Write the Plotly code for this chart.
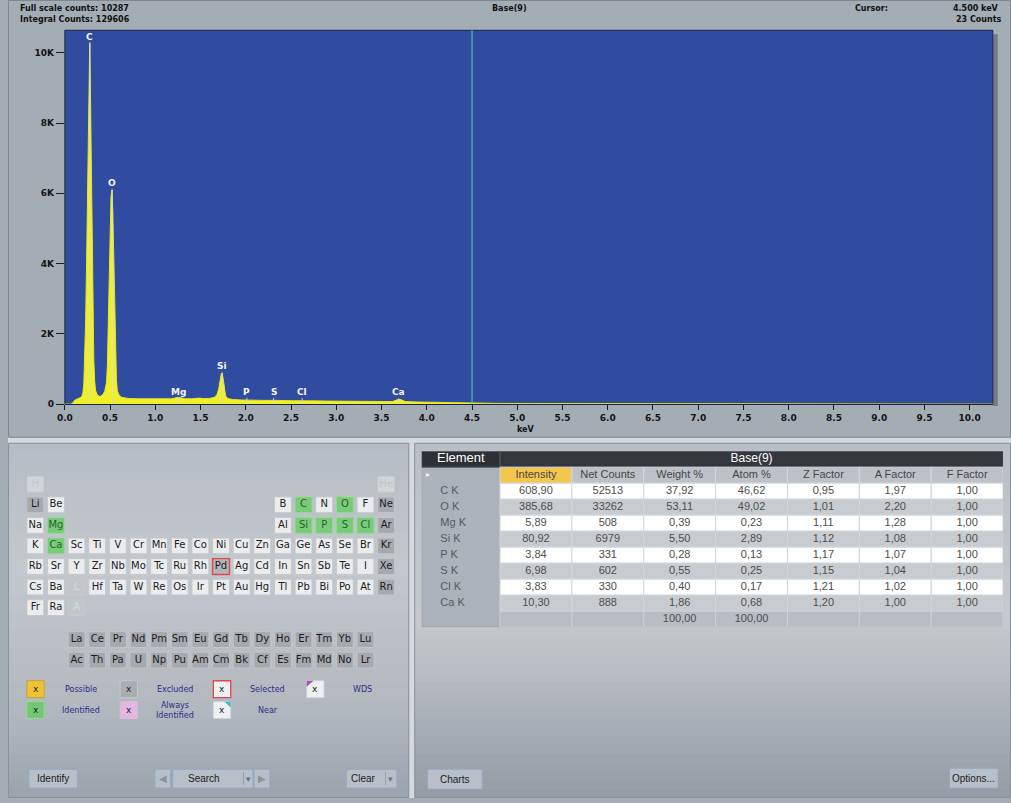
import plotly.graph_objects as go

W, H = 1011, 803

# ---------------- spectrum data ----------------
energy_keV = [0.00, 0.07, 0.09, 0.11, 0.14, 0.17, 0.19, 0.20, 0.21, 0.22, 0.23, 0.24, 0.25, 0.26,
              0.27, 0.275, 0.28, 0.29, 0.30, 0.31, 0.32, 0.33, 0.34, 0.36, 0.38, 0.40, 0.42, 0.44,
              0.46, 0.47, 0.48, 0.49, 0.50, 0.51, 0.52, 0.53, 0.54, 0.55, 0.56, 0.57, 0.58, 0.60,
              0.63, 0.70, 0.80, 0.90, 1.00, 1.10, 1.18, 1.22, 1.25, 1.28, 1.33, 1.40, 1.45, 1.49,
              1.53, 1.60, 1.65, 1.68, 1.70, 1.71, 1.72, 1.73, 1.74, 1.75, 1.76, 1.77, 1.78, 1.80,
              1.85, 1.95, 2.01, 2.06, 2.20, 2.30, 2.35, 2.50, 2.62, 2.70, 2.90, 3.10, 3.30, 3.50,
              3.62, 3.66, 3.69, 3.72, 3.76, 3.90, 4.10, 4.30, 4.50, 4.80, 5.20, 5.60, 6.00, 6.40,
              6.80, 7.20, 7.45, 7.50, 10.26]
counts = [0, 0, 40, 110, 150, 180, 230, 330, 600, 1250, 2400, 4000, 6100, 8500,
          9500, 10287, 9450, 7600, 4700, 2500, 1250, 650, 380, 260, 220, 230, 270, 360,
          600, 1100, 2300, 3900, 5300, 5900, 6100, 5500, 4300, 2900, 1500, 700, 380, 250,
          190, 160, 150, 145, 140, 140, 150, 175, 195, 180, 150, 150, 165, 170,
          155, 160, 190, 260, 420, 600, 790, 880, 870, 750, 540, 340, 220, 160,
          130, 115, 125, 112, 105, 118, 105, 95, 105, 92, 85, 80, 72, 65,
          70, 110, 140, 120, 70, 58, 48, 35, 23, 18, 16, 15, 17, 15,
          14, 12, 10, 0, 0]

peak_labels = ["C", "O", "Mg", "Si", "P", "S", "Cl", "Ca"]
peak_keV = [0.277, 0.525, 1.254, 1.740, 2.013, 2.307, 2.622, 3.690]
peak_marker_top = [10287, 6110, 180, 900, 180, 180, 170, 160]

cursor_keV = 4.5
cursor_counts = 23
full_scale_counts = 10287
integral_counts = 129606
spectrum_name = "Base(9)"

tick_keV = [0.0, 0.5, 1.0, 1.5, 2.0, 2.5, 3.0, 3.5, 4.0, 4.5, 5.0, 5.5, 6.0, 6.5, 7.0, 7.5,
            8.0, 8.5, 9.0, 9.5, 10.0]
tick_keV_text = ["0.0", "0.5", "1.0", "1.5", "2.0", "2.5", "3.0", "3.5", "4.0", "4.5", "5.0",
                 "5.5", "6.0", "6.5", "7.0", "7.5", "8.0", "8.5", "9.0", "9.5", "10.0"]
count_ticks = [0, 2000, 4000, 6000, 8000, 10000]
count_tick_text = ["0", "2K", "4K", "6K", "8K", "10K"]

# ---------------- periodic table data ----------------
pt_rows = [
    ["H"] + [None] * 16 + ["He"],
    ["Li", "Be"] + [None] * 10 + ["B", "C", "N", "O", "F", "Ne"],
    ["Na", "Mg"] + [None] * 10 + ["Al", "Si", "P", "S", "Cl", "Ar"],
    ["K", "Ca", "Sc", "Ti", "V", "Cr", "Mn", "Fe", "Co", "Ni", "Cu", "Zn", "Ga", "Ge", "As", "Se", "Br", "Kr"],
    ["Rb", "Sr", "Y", "Zr", "Nb", "Mo", "Tc", "Ru", "Rh", "Pd", "Ag", "Cd", "In", "Sn", "Sb", "Te", "I", "Xe"],
    ["Cs", "Ba", "L", "Hf", "Ta", "W", "Re", "Os", "Ir", "Pt", "Au", "Hg", "Tl", "Pb", "Bi", "Po", "At", "Rn"],
    ["Fr", "Ra", "A"] + [None] * 15,
]
lanthanides = ["La", "Ce", "Pr", "Nd", "Pm", "Sm", "Eu", "Gd", "Tb", "Dy", "Ho", "Er", "Tm", "Yb", "Lu"]
actinides = ["Ac", "Th", "Pa", "U", "Np", "Pu", "Am", "Cm", "Bk", "Cf", "Es", "Fm", "Md", "No", "Lr"]
identified = ["C", "O", "Mg", "Si", "P", "S", "Cl", "Ca"]
excluded = ["Li", "Ne", "Ar", "Kr", "Xe", "Rn"] + lanthanides + actinides
selected = ["Pd"]
disabled = ["H", "He", "L", "A"]

# ---------------- quantification table data ----------------
table_columns = ["Intensity", "Net Counts", "Weight %", "Atom %", "Z Factor", "A Factor", "F Factor"]
elements = ["C K", "O K", "Mg K", "Si K", "P K", "S K", "Cl K", "Ca K"]
intensity = [608.90, 385.68, 5.89, 80.92, 3.84, 6.98, 3.83, 10.30]
net_counts = [52513, 33262, 508, 6979, 331, 602, 330, 888]
weight_pct = [37.92, 53.11, 0.39, 5.50, 0.28, 0.55, 0.40, 1.86]
atom_pct = [46.62, 49.02, 0.23, 2.89, 0.13, 0.25, 0.17, 0.68]
z_factor = [0.95, 1.01, 1.11, 1.12, 1.17, 1.15, 1.21, 1.20]
a_factor = [1.97, 2.20, 1.28, 1.08, 1.07, 1.04, 1.02, 1.00]
f_factor = [1.00, 1.00, 1.00, 1.00, 1.00, 1.00, 1.00, 1.00]
totals = ["", "", "100,00", "100,00", "", "", ""]


# ---------------- helpers ----------------
def px(x):
    return x / W


def py(y):
    return 1 - y / H


def hex2rgb(h):
    h = h.lstrip("#")
    return tuple(int(h[i:i + 2], 16) for i in (0, 2, 4))


def lerp_color(stops, f):
    for (f0, c0), (f1, c1) in zip(stops, stops[1:]):
        if f0 <= f <= f1:
            t = (f - f0) / (f1 - f0) if f1 > f0 else 0
            a, b = hex2rgb(c0), hex2rgb(c1)
            return "rgb(%d,%d,%d)" % tuple(round(a[i] + (b[i] - a[i]) * t) for i in range(3))
    return stops[-1][1]


shapes = []
annotations = []


def add_gradient(x0, x1, y0, y1, stops, n=40):
    step = (y1 - y0) / n
    for i in range(n):
        ya = y0 + i * step
        yb = min(y1, ya + step + 0.8)
        shapes.append(dict(type="rect", xref="paper", yref="paper", x0=px(x0), x1=px(x1),
                           y0=py(yb), y1=py(ya), fillcolor=lerp_color(stops, (i + 0.5) / n),
                           line=dict(width=0), layer="below"))


def prect(x0, y0, x1, y1, fill, line="rgba(0,0,0,0)", lw=1, layer="below"):
    shapes.append(dict(type="rect", xref="paper", yref="paper", x0=px(x0), x1=px(x1),
                       y0=py(y1), y1=py(y0), fillcolor=fill, line=dict(color=line, width=lw),
                       layer=layer))


def ptext(x, y, text, size=9, color="#111", family="DejaVu Sans", xanchor="center", bold=False):
    annotations.append(dict(xref="paper", yref="paper", x=px(x), y=py(y), text=("<b>%s</b>" % text) if bold else text,
                            showarrow=False, xanchor=xanchor, yanchor="middle",
                            font=dict(size=size, color=color, family=family)))


# ---------------- background panels ----------------
prect(0, 440, 1011, 446, "#d6dade")
prect(404, 446, 410, 803, "#d6dade")
prect(0.5, 0.5, 1010.5, 440, "rgba(0,0,0,0)", line="#7e868e", lw=1)
add_gradient(1, 404, 446, 803, [(0, "#b6bcc3"), (0.35, "#c3c8cd"), (0.75, "#b2b8bf"), (1, "#9ba3ac")])
add_gradient(410, 1011, 446, 803, [(0, "#b9bfc6"), (0.5, "#c6cace"), (1, "#939ba4")])
prect(0.5, 446, 404, 802.5, "rgba(0,0,0,0)", line="#8a9199", lw=1)
prect(410, 446, 1010.5, 802.5, "rgba(0,0,0,0)", line="#8a9199", lw=1)

# spectrum plot area (blue)
X0, X1, Y0, Y1 = 57.3, 992.7, 30.5, 406.6
prect(X1, Y0 + 4, X1 + 5, Y1 + 2, "rgba(60,66,74,0.45)")   # right shadow
prect(X0, Y0, X1, Y1, "#2f4ca1", line="#1b2448", lw=1)

# ---------------- spectrum traces ----------------
traces = []
traces.append(go.Scatter(x=energy_keV, y=counts, mode="lines", fill="tozeroy",
                         fillcolor="#f0f028", line=dict(color="#e6e628", width=1),
                         hoverinfo="skip", xaxis="x", yaxis="y"))
mx, my = [], []
for e, t in zip(peak_keV, peak_marker_top):
    mx += [e, e, None]
    my += [t, 0, None]
traces.append(go.Scatter(x=mx, y=my, mode="lines", line=dict(color="rgba(215,215,230,0.9)", width=1),
                         hoverinfo="skip", xaxis="x", yaxis="y"))
for lab, e, t in zip(peak_labels, peak_keV, peak_marker_top):
    annotations.append(dict(xref="x", yref="y", x=e, y=t, text="<b>%s</b>" % lab, showarrow=False,
                            xanchor="center", yanchor="bottom", yshift=-1,
                            font=dict(size=9, color="#f4f4f8", family="DejaVu Sans")))
shapes.append(dict(type="line", xref="x", yref="paper", x0=cursor_keV, x1=cursor_keV,
                   y0=py(Y1), y1=py(Y0), line=dict(color="#58d8b4", width=1), layer="above"))

# header texts
ptext(10, 9, "Full scale counts: %d" % full_scale_counts, size=8, bold=True, xanchor="left")
ptext(10, 20, "Integral Counts: %d" % integral_counts, size=8, bold=True, xanchor="left")
ptext(506, 9, spectrum_name, size=8, bold=True)
ptext(852, 9, "Cursor:", size=8, bold=True, xanchor="left")
ptext(1001, 9, "%.3f keV" % cursor_keV, size=8, bold=True, xanchor="right")
ptext(1004, 20, "%d Counts" % cursor_counts, size=8, bold=True, xanchor="right")
ptext(522, 432, "keV", size=8, bold=True)

# ---------------- periodic table ----------------
CW, CH = 0.82, 0.77
styles = {
    "normal": ("#eaecee", "#c4c8cc", "#1b1b1b"),
    "identified": ("#78cb78", "#98d898", "#2e5e2e"),
    "excluded": ("#a6aaaf", "#c2c6ca", "#1b1b1b"),
    "selected": ("#b3b6b9", "#e2474f", "#1b1b1b"),
    "disabled": ("#d2d5d8", "#c5c9cd", "#c2c5c8"),
}


def status(sym):
    if sym in selected:
        return "selected"
    if sym in disabled:
        return "disabled"
    if sym in identified:
        return "identified"
    if sym in excluded:
        return "excluded"
    return "normal"


cells = []
for r, row in enumerate(pt_rows):
    for c, sym in enumerate(row):
        if sym:
            cells.append((sym, c, r))
for i, sym in enumerate(lanthanides):
    cells.append((sym, 2 + i, 7.55))
for i, sym in enumerate(actinides):
    cells.append((sym, 2 + i, 8.55))

pt_x, pt_y, pt_t, pt_col = [], [], [], []
for sym, c, r in cells:
    fill, line, tcol = styles[status(sym)]
    if sym in ("L", "A"):
        fill, tcol = "#c3c6c9", "#d6d8da"
    shapes.append(dict(type="rect", xref="x2", yref="y2", x0=c, x1=c + CW, y0=r, y1=r + CH,
                       fillcolor=fill, line=dict(color=line, width=1.4 if sym in selected else 1),
                       layer="below"))
    pt_x.append(c + CW / 2)
    pt_y.append(r + CH / 2)
    pt_t.append(sym)
    pt_col.append(tcol)
traces.append(go.Scatter(x=pt_x, y=pt_y, text=pt_t, mode="text", textposition="middle center",
                         textfont=dict(family="DejaVu Sans", size=10, color=pt_col),
                         hoverinfo="skip", xaxis="x2", yaxis="y2"))

# legend of the periodic table
leg_items = [
    (19, 693.5, "#f0c232", "#c9a040", "Possible", 74),
    (113, 693.5, "#a9adb1", "#c4c8cc", "Excluded", 168),
    (207, 693.5, "#eef0f2", "#e2474f", "Selected", 262),
    (301, 693.5, "#eef0f2", "#d0d4d8", "WDS", 357),
    (19, 714.5, "#74c874", "#98d898", "Identified", 74),
    (113, 714.5, "#e6b6e2", "#d0c0d0", "Always<br>Identified", 168),
    (207, 714.5, "#eef0f2", "#d0d4d8", "Near", 262),
]
for bx, by, fill, line, lab, lx in leg_items:
    prect(bx, by - 8.5, bx + 17.5, by + 8.5, fill, line=line, lw=1.3 if lab == "Selected" else 1)
    ptext(bx + 8.75, by, "x", size=9, color="#222")
    ptext(lx, by, lab, size=8, color="#2c2c8c")
shapes.append(dict(type="path", xref="paper", yref="paper",
                   path="M %f %f L %f %f L %f %f Z" % (px(301), py(685), px(308), py(685), px(301), py(691)),
                   fillcolor="#b44cb4", line=dict(width=0), layer="below"))
shapes.append(dict(type="path", xref="paper", yref="paper",
                   path="M %f %f L %f %f L %f %f Z" % (px(218), py(706), px(224.5), py(706), px(224.5), py(712)),
                   fillcolor="#3cc0c8", line=dict(width=0), layer="below"))

# buttons
btn_fill, btn_line = "#b7bfc8", "#95a8c2"
prect(21, 774, 70, 793, btn_fill, line=btn_line)
ptext(45.5, 783.5, "Identify", size=10, color="#222", family="Liberation Sans")
prect(148, 774, 164, 793, btn_fill, line=btn_line)
ptext(156, 783.5, "◀", size=10, color="#8d939a")
prect(166, 774, 247, 793, btn_fill, line=btn_line)
ptext(198, 783.5, "Search", size=10, color="#222", family="Liberation Sans")
prect(237, 777, 237.8, 790, "#8f99a4")
ptext(242, 783.5, "▾", size=9, color="#6b737b")
prect(248, 774, 264, 793, btn_fill, line=btn_line)
ptext(256, 783.5, "▶", size=10, color="#8d939a")
prect(341, 774, 392, 793, btn_fill, line=btn_line)
ptext(358.5, 783.5, "Clear", size=10, color="#222", family="Liberation Sans")
prect(380, 777, 380.8, 790, "#8f99a4")
ptext(386, 783.5, "▾", size=9, color="#6b737b")
prect(423, 774, 478, 794, btn_fill, line=btn_line)
ptext(450.5, 784, "Charts", size=10, color="#222", family="Liberation Sans")
prect(949, 773, 998, 793, btn_fill, line=btn_line)
ptext(973.5, 783, "Options...", size=10, color="#222", family="Liberation Sans")

# ---------------- quantification table (x3/y3: column / row units) ----------------
EL0 = -1.09
table_bg = "#abb2b9"
shapes.append(dict(type="rect", xref="x3", yref="y3", x0=EL0, x1=7, y0=0, y1=11,
                   fillcolor=table_bg, line=dict(color="#9aa1a8", width=1), layer="below"))
shapes.append(dict(type="rect", xref="x3", yref="y3", x0=EL0, x1=0, y0=0, y1=1,
                   fillcolor="#2d3035", line=dict(color="#55595e", width=1), layer="below"))
shapes.append(dict(type="rect", xref="x3", yref="y3", x0=0, x1=7, y0=0, y1=1,
                   fillcolor="#34373c", line=dict(color="#55595e", width=1), layer="below"))
t_x, t_y, t_t, t_c, t_s = [], [], [], [], []


def tcell(x, y, text, color="#4e4e4e", size=11):
    t_x.append(x)
    t_y.append(y)
    t_t.append(text)
    t_c.append(color)
    t_s.append(size)


tcell((EL0 + 0) / 2, 0.5, "Element", "#ffffff", 13)
tcell(3.5, 0.5, spectrum_name, "#ffffff", 12)
for j, name in enumerate(table_columns):
    fill = "#f5c64e" if name == "Intensity" else "#bcc2c8"
    shapes.append(dict(type="rect", xref="x3", yref="y3", x0=j, x1=j + 1, y0=1, y1=2,
                       fillcolor=fill, line=dict(color="#d4d8dc", width=1), layer="below"))
    tcell(j + 0.5, 1.5, name, "#474747", 11)


def fmt(v):
    return ("%.2f" % v).replace(".", ",")


columns_data = [[fmt(v) for v in intensity], [str(v) for v in net_counts],
                [fmt(v) for v in weight_pct], [fmt(v) for v in atom_pct],
                [fmt(v) for v in z_factor], [fmt(v) for v in a_factor], [fmt(v) for v in f_factor]]
for i, el in enumerate(elements):
    r = 2 + i
    fill = "#ffffff" if i % 2 == 0 else "#c7ccd1"
    for j in range(7):
        shapes.append(dict(type="rect", xref="x3", yref="y3", x0=j, x1=j + 1, y0=r, y1=r + 1,
                           fillcolor=fill, line=dict(color="#d2d6da", width=1), layer="below"))
        tcell(j + 0.5, r + 0.5, columns_data[j][i])
for j in range(7):
    shapes.append(dict(type="rect", xref="x3", yref="y3", x0=j, x1=j + 1, y0=10, y1=11,
                       fillcolor="#b7bdc3", line=dict(color="#cdd1d5", width=1), layer="below"))
    if totals[j]:
        tcell(j + 0.5, 10.5, totals[j])
traces.append(go.Scatter(x=t_x, y=t_y, text=t_t, mode="text", textposition="middle center",
                         textfont=dict(family="Liberation Sans", size=t_s, color=t_c),
                         hoverinfo="skip", xaxis="x3", yaxis="y3"))
traces.append(go.Scatter(x=[EL0 + 0.26] * len(elements), y=[2.5 + i for i in range(len(elements))],
                         text=elements, mode="text", textposition="middle right",
                         textfont=dict(family="Liberation Sans", size=11, color="#555a5f"),
                         hoverinfo="skip", xaxis="x3", yaxis="y3"))
traces.append(go.Scatter(x=[EL0 + 0.06], y=[1.5], text=["▸"], mode="text", textposition="middle right",
                         textfont=dict(family="DejaVu Sans", size=8, color="#f4f4f4"),
                         hoverinfo="skip", xaxis="x3", yaxis="y3"))

# ---------------- figure ----------------
fig = go.Figure(data=traces)
axis_font = dict(family="DejaVu Sans", size=9, color="#141414", weight="bold")
hidden = dict(visible=False, fixedrange=True, showgrid=False, zeroline=False)
fig.update_layout(
    width=W, height=H, autosize=False, margin=dict(l=0, r=0, t=0, b=0, pad=0),
    paper_bgcolor="#a4acb4", plot_bgcolor="rgba(0,0,0,0)",
    showlegend=False, hovermode=False,
    xaxis=dict(domain=[px(X0), px(X1)], range=[0, 10.256], tickvals=tick_keV, ticktext=tick_keV_text,
               ticks="outside", ticklen=5, tickwidth=1, tickcolor="#1c1c1c", tickfont=axis_font,
               showgrid=False, zeroline=False, showline=True, linecolor="#1b2448", linewidth=1,
               anchor="y", fixedrange=True),
    yaxis=dict(domain=[py(Y1), py(Y0)], range=[0, 10640], tickvals=count_ticks, ticktext=count_tick_text,
               ticks="outside", ticklen=8, tickwidth=1, tickcolor="#1c1c1c", tickfont=axis_font,
               showgrid=False, zeroline=False, showline=False, anchor="x", fixedrange=True),
    xaxis2=dict(domain=[px(19), px(19 + 18 * 20.8)], range=[0, 18], anchor="y2", **hidden),
    yaxis2=dict(domain=[py(479.3 + 9.6 * 20.7), py(479.3)], range=[9.6, 0], anchor="x2", **hidden),
    xaxis3=dict(domain=[px(417), px(1003)], range=[EL0, 7], anchor="y3", **hidden),
    yaxis3=dict(domain=[py(454 + 11 * 16.1), py(454)], range=[11, 0], anchor="x3", **hidden),
    shapes=shapes, annotations=annotations,
)

fig.write_html("out.html", config={"displayModeBar": False, "staticPlot": True, "responsive": False},
               post_script="document.body.style.margin='0';document.body.style.overflow='hidden';")
